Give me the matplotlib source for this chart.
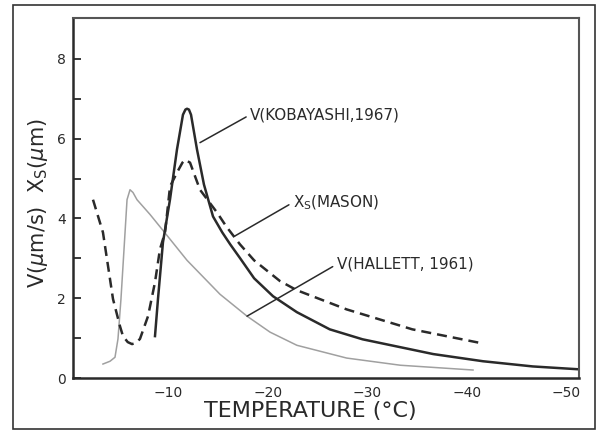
import matplotlib
matplotlib.use("Agg")
import matplotlib.pyplot as plt
from matplotlib.patches import Rectangle
from matplotlib.transforms import ScaledTranslation

# ---- data (temperature in deg C, values in um/s or um) ----
kob_T = [-8.04, -8.34, -8.84, -9.55, -10.25, -10.85, -11.1, -11.26, -11.45, -11.66,
         -12.26, -12.96, -13.87, -14.8, -15.6, -16.6, -18.0, -19.9, -22.3, -25.6,
         -28.9, -33.7, -36.0, -41.0, -46.0, -50.5]
kob_V = [1.05, 1.98, 3.40, 4.48, 5.73, 6.60, 6.73, 6.75, 6.73, 6.60,
         5.73, 4.85, 4.05, 3.65, 3.35, 3.00, 2.50, 2.05, 1.65, 1.22,
         0.97, 0.72, 0.60, 0.42, 0.29, 0.22]

mas_T = [-1.81, -2.81, -3.82, -4.52, -4.82, -5.3, -5.73, -6.13, -6.53, -7.34,
         -8.04, -8.54, -9.05, -9.55, -10.25, -10.8, -11.06, -11.56, -12.56, -14.27,
         -15.2, -16.58, -18.0, -20.6, -22.3, -27.3, -33.9, -40.7]
mas_V = [4.47, 3.65, 1.98, 1.30, 1.05, 0.90, 0.85, 0.88, 0.98, 1.55,
         2.40, 3.23, 3.65, 4.80, 5.15, 5.40, 5.47, 5.40, 4.72, 4.15,
         3.80, 3.35, 2.95, 2.43, 2.20, 1.72, 1.22, 0.88]

hal_T = [-2.81, -3.52, -4.02, -4.32, -4.62, -4.92, -5.23, -5.53, -5.83, -6.23,
         -7.54, -8.84, -11.26, -14.57, -17.29, -19.6, -22.3, -27.3, -32.7, -40.0]
hal_V = [0.35, 0.42, 0.52, 0.98, 1.98, 3.20, 4.47, 4.72, 4.65, 4.47,
         4.10, 3.70, 2.95, 2.10, 1.55, 1.15, 0.82, 0.50, 0.32, 0.20]

x_ticks = [-10, -20, -30, -40, -50]
y_ticks = [0, 1, 2, 3, 4, 5, 6, 7, 8]
y_ticklabels = ["0", "", "2", "", "4", "", "6", "", "8"]

# ---- figure ----
W, H = 597, 432
fig = plt.figure(figsize=(W / 100, H / 100), dpi=100)
fig.patch.set_facecolor("white")
ax = fig.add_axes([73 / W, 1 - 378 / H, (579 - 73) / W, (378 - 18) / H])

ink = "#2a2a2a"
ax.plot(hal_T, hal_V, color="#a0a0a0", lw=1.1)
ax.plot(mas_T, mas_V, color=ink, lw=1.8, dashes=(4, 2.4))
ax.plot(kob_T, kob_V, color=ink, lw=1.8)

ax.set_xlim(0.2, -50.65)
ax.set_ylim(0.025, 9.025)

ax.set_xticks(x_ticks)
ax.set_xticklabels([f"\u2212{abs(t)}" for t in x_ticks])
ax.set_yticks(y_ticks)
ax.set_yticklabels(y_ticklabels)
ax.tick_params(axis="x", length=0, pad=6, labelsize=10, colors=ink)
ax.tick_params(axis="y", direction="in", length=6, width=1.3, pad=5,
               labelsize=10, colors=ink)
off = ScaledTranslation(-6 / 100, 0, fig.dpi_scale_trans)
for lab in ax.get_xticklabels():
    lab.set_transform(lab.get_transform() + off)

for side, sp in ax.spines.items():
    sp.set_color(ink if side in ("left", "bottom") else "#555555")
    sp.set_linewidth(1.8 if side in ("left", "bottom") else 1.5)

lab_font = dict(family=["DejaVu Sans"], color=ink)
fig.text(310 / W, 1 - 411 / H, "TEMPERATURE (\u00b0C)", ha="center", va="center",
         fontsize=16, **lab_font)
fig.text(38 / W, 1 - 203 / H, r"V($\mu$m/s)  X$_\mathregular{S}$($\mu$m)",
         rotation=90, ha="center", va="center", fontsize=15, **lab_font)

ann_font = dict(fontsize=10.9, color=ink, family=["DejaVu Sans"], va="center", ha="left")
arrow = dict(arrowstyle="-", lw=1.1, color=ink, shrinkA=1, shrinkB=0, relpos=(0, 0.5))
ax.annotate("V(KOBAYASHI,1967)", xy=(-12.56, 5.9), xytext=(-17.6, 6.6),
            arrowprops=arrow, **ann_font)
ax.annotate(r"X$_\mathregular{S}$(MASON)", xy=(-16.0, 3.55), xytext=(-21.9, 4.4),
            arrowprops=arrow, **ann_font)
ax.annotate("V(HALLETT, 1961)", xy=(-17.29, 1.55), xytext=(-26.3, 2.85),
            arrowprops=arrow, **ann_font)

fig.patches.append(Rectangle((13 / W, 1 - 429 / H), (595 - 13) / W, (429 - 5) / H,
                             transform=fig.transFigure, fill=False, lw=1.2,
                             ec="#333333"))

fig.savefig("out.png", dpi=100)
